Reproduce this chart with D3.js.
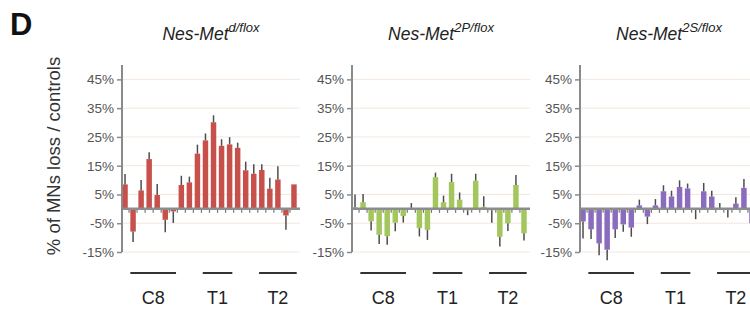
<!DOCTYPE html>
<html><head><meta charset="utf-8">
<script src="https://cdn.jsdelivr.net/npm/d3@7"></script>
<style>
body{margin:0;background:#fff;}
svg{display:block;font-family:"Liberation Sans",Arial,Helvetica,sans-serif;}
</style>
</head><body>
<svg id="c" width="750" height="309"></svg>
<script>
// ---- data ----
const segments = ["C8", "T1", "T2"];
const segmentStart = [1, 10, 17];   // bar index where each segment line begins
const segmentEnd = [6, 13, 21];     // bar index where each segment line ends
const yTicks = [-15, -5, 5, 15, 25, 35, 45];
const titleBase = ["Nes-Met", "Nes-Met", "Nes-Met"];
const titleSup = ["d/flox", "2P/flox", "2S/flox"];

const lossD  = [8.5, -7.9, 6.4, 17.3, 4.8, -3.8, -0.9, 8.3, 9.2, 19.2, 23.8, 30.1, 21.9, 22.4, 21.2, 13.4, 12.2, 13.5, 7.0, 10.2, -2.3, 8.5];
const semD   = [3.6, 3.6, 3.6, 2.4, 3.8, 4.3, 4.0, 3.2, 2.0, 3.1, 2.4, 2.4, 2.3, 2.5, 1.8, 3.0, 3.3, 2.0, 3.8, 4.6, 5.0, 0];
const loss2P = [0.5, 2.3, -4.3, -9.0, -9.5, -4.8, -2.5, 0.2, -6.7, -7.3, 11.0, 2.3, 9.3, 3.2, -0.5, 9.8, 0.7, -0.5, -9.7, -5.0, 8.3, -8.5];
const sem2P  = [4.5, 2.9, 3.2, 3.2, 3.0, 3.0, 2.3, 1.8, 2.9, 3.5, 1.6, 2.3, 2.9, 2.5, 1.7, 2.4, 3.7, 4.3, 3.4, 2.7, 3.5, 2.5];
const loss2S = [-4.4, -7.1, -12.0, -14.2, -7.1, -5.4, -6.5, 1.2, -2.7, 1.2, 6.1, 4.3, 7.6, 7.1, -0.2, 6.1, 4.3, 0.3, -0.2, 1.8, 7.3, -5.0];
const sem2S  = [5.9, 3.4, 4.1, 3.7, 3.0, 2.6, 3.2, 2.0, 2.6, 2.2, 2.1, 2.0, 2.3, 1.7, 3.4, 2.9, 2.0, 1.7, 2.8, 2.2, 3.1, 3.0];

const seriesValues = [lossD, loss2P, loss2S];
const seriesSem = [semD, sem2P, sem2S];
const colors = ["#c8504b", "#a3c75c", "#8b6bbd"];

// ---- layout ----
const svg = d3.select("#c");
const axisX = [122, 352, 580];
const panelW = 178;

const y = d3.scaleLinear().domain([-15, 50]).range([252, 65]);

// panel label
svg.append("text").attr("x", 10).attr("y", 35)
  .attr("font-size", 31).attr("font-weight", "bold").attr("fill", "#111").text("D");

// y-axis title
svg.append("text")
  .attr("transform", "translate(60,156) rotate(-90)")
  .attr("text-anchor", "middle").attr("font-size", 18.5).attr("fill", "#333")
  .text("% of MNs loss / controls");

seriesValues.forEach((vals, p) => {
  const ax = axisX[p];
  const g = svg.append("g");
  const idx = d3.range(vals.length);
  const x = d3.scaleBand().domain(idx).range([ax - 1, ax + 176])
    .paddingInner(0.32).paddingOuter(0.16);

  // title
  const t = g.append("text").attr("x", ax + panelW / 2).attr("y", 40)
    .attr("text-anchor", "middle").attr("font-style", "italic")
    .attr("font-size", 17.5).attr("fill", "#222");
  t.append("tspan").text(titleBase[p]);
  t.append("tspan").attr("dy", -8).attr("font-size", 13).text(titleSup[p]);

  // gridlines
  g.selectAll(".grid").data(yTicks).join("line")
    .attr("x1", ax).attr("x2", ax + panelW)
    .attr("y1", d => y(d)).attr("y2", d => y(d))
    .attr("stroke", "#f4e7dd").attr("stroke-width", 1);

  // bars
  g.selectAll(".bar").data(idx).join("rect")
    .attr("x", i => x(i))
    .attr("width", x.bandwidth())
    .attr("y", i => y(Math.max(0, vals[i])))
    .attr("height", i => Math.abs(y(vals[i]) - y(0)))
    .attr("fill", colors[p]);

  // error bars
  const sem = seriesSem[p];
  g.selectAll(".err").data(idx.filter(i => sem[i] > 0)).join("line")
    .attr("x1", i => x(i) + x.bandwidth() / 2)
    .attr("x2", i => x(i) + x.bandwidth() / 2)
    .attr("y1", i => y(vals[i]))
    .attr("y2", i => y(vals[i] + (vals[i] >= 0 ? 1 : -1) * sem[i]))
    .attr("stroke", "#4d4d4d").attr("stroke-width", 1.5);

  // zero baseline with ticks at band boundaries
  g.selectAll(".zt").data(d3.range(1, vals.length)).join("line")
    .attr("x1", i => x(i) - x.step() * x.paddingInner() / 2)
    .attr("x2", i => x(i) - x.step() * x.paddingInner() / 2)
    .attr("y1", y(0)).attr("y2", y(0) + 4)
    .attr("stroke", "#777").attr("stroke-width", 1.2);
  g.append("line").attr("x1", ax).attr("x2", ax + panelW)
    .attr("y1", y(0)).attr("y2", y(0))
    .attr("stroke", "#8c8c8c").attr("stroke-width", 2.5);

  // y axis
  const yAxis = d3.axisLeft(y).tickValues(yTicks).tickFormat(d => d + "%")
    .tickSize(5).tickPadding(3);
  const ag = g.append("g").attr("transform", `translate(${ax},0)`).call(yAxis);
  ag.select(".domain").attr("stroke", "#8a8a8a").attr("stroke-width", 2)
    .attr("d", `M0,${y(50)}V${y(-15)}`);
  ag.selectAll(".tick line").attr("stroke", "#8a8a8a").attr("stroke-width", 1.5);
  ag.selectAll(".tick text").attr("font-size", 13.5).attr("fill", "#555")
    .attr("font-family", "Liberation Sans, Arial, sans-serif");

  // segment lines and labels
  segments.forEach((s, k) => {
    const x1 = x(segmentStart[k]);
    const x2 = x(segmentEnd[k]) + x.bandwidth();
    g.append("line").attr("x1", x1).attr("x2", x2).attr("y1", 273).attr("y2", 273)
      .attr("stroke", "#333").attr("stroke-width", 2);
    g.append("text").attr("x", (x1 + x2) / 2).attr("y", 304)
      .attr("text-anchor", "middle").attr("font-size", 18).attr("fill", "#222").text(s);
  });
});
</script>
</body></html>
